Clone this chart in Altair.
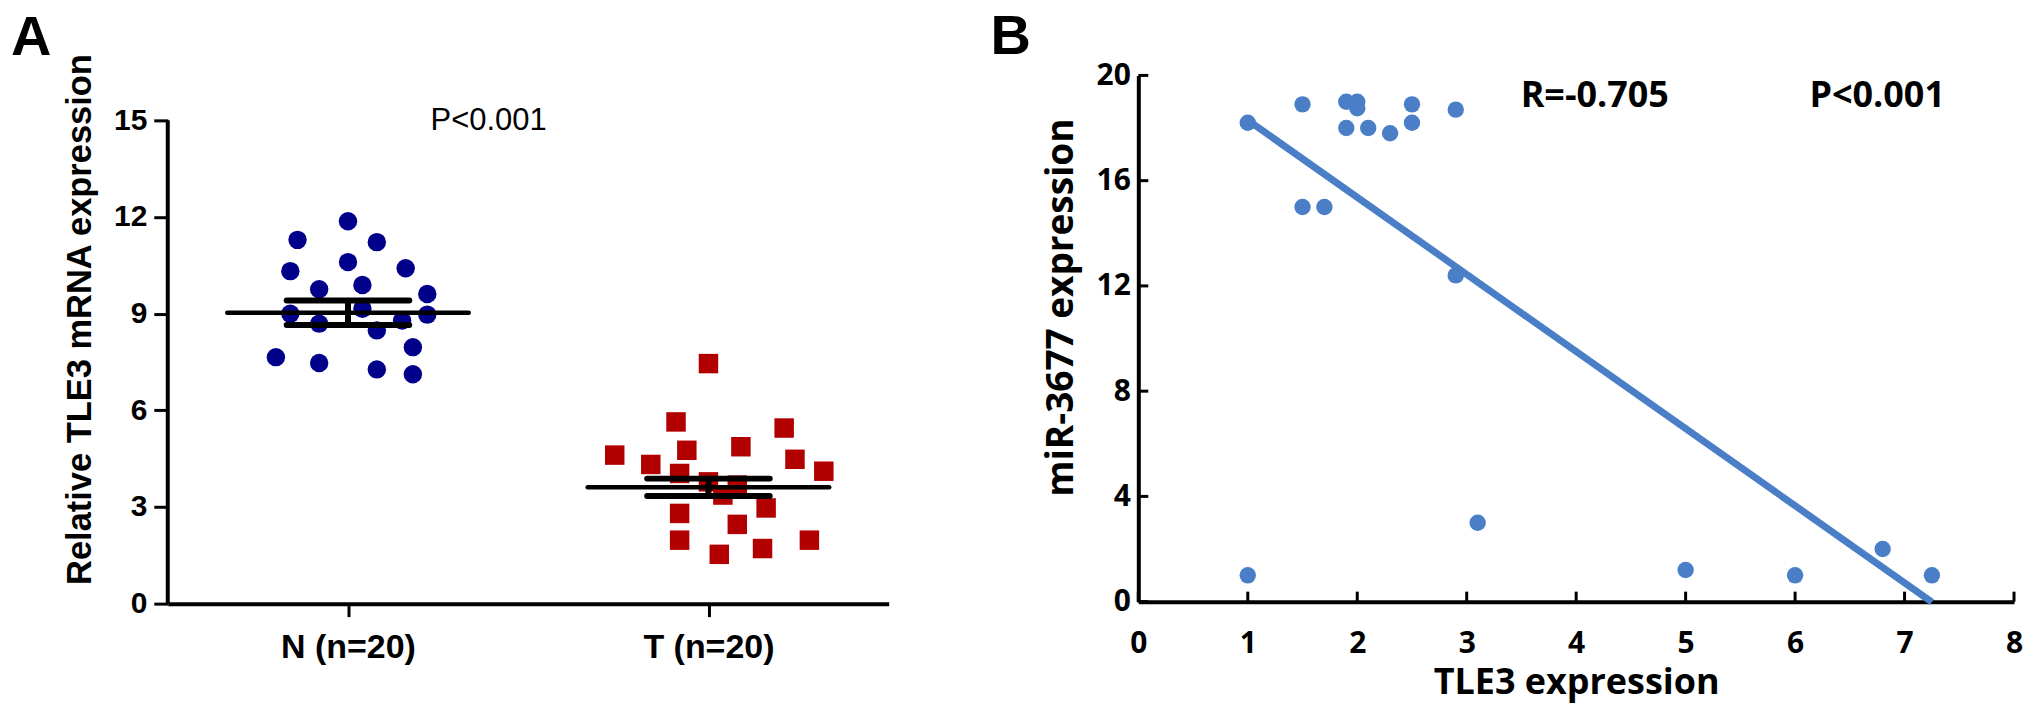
import altair as alt
import pandas as pd

# ---- panel A: scatter of TLE3 mRNA per group ----
groups = ["N (n=20)", "T (n=20)"]
group_pos = [1, 2]
n_values = [11.29, 11.87, 11.22, 10.32, 10.60, 10.41, 9.76, 9.89, 9.61, 9.00,
            8.97, 8.69, 8.48, 8.79, 7.96, 7.65, 7.47, 7.27, 7.12, 9.15]
n_offset = [-0.14, 0.0, 0.08, -0.16, 0.0, 0.16, -0.08, 0.04, 0.22, -0.16,
            0.22, -0.08, 0.08, 0.15, 0.18, -0.20, -0.08, 0.08, 0.18, 0.04]
t_values = [7.45, 5.64, 5.45, 4.61, 4.76, 4.87, 4.32, 4.48, 4.11, 4.04,
            3.78, 3.68, 3.37, 2.97, 2.80, 2.46, 1.97, 1.71, 1.97, 1.53]
t_offset = [0.0, -0.09, 0.21, -0.26, -0.06, 0.09, -0.16, 0.24, 0.32, -0.08,
            0.0, 0.08, 0.04, 0.16, -0.08, 0.08, -0.08, 0.15, 0.28, 0.03]
group_mean = [9.03, 3.61]
group_sem = [0.38, 0.27]
a_yticks = [0, 3, 6, 9, 12, 15]
p_text_a = "P<0.001"

# ---- panel B: correlation ----
tle3 = [1.0, 1.0, 1.5, 1.5, 1.7, 1.9, 1.9, 2.0, 2.0, 2.1,
        2.3, 2.5, 2.5, 2.9, 2.9, 3.1, 5.0, 6.0, 6.8, 7.25]
mir3677 = [18.2, 1.0, 18.9, 15.0, 15.0, 19.0, 18.0, 19.0, 18.75, 18.0,
           17.8, 18.9, 18.2, 18.7, 12.4, 3.0, 1.2, 1.0, 2.0, 1.0]
b_xticks = [0, 1, 2, 3, 4, 5, 6, 7, 8]
b_yticks = [0, 4, 8, 12, 16, 20]
r_text = "R=-0.705"
p_text_b = "P<0.001"

FONT_A = "Liberation Sans"
FONT_B = "Open Sans"
BLUE = "#4A7FC8"
W_A, H_A = 722, 529
A_TOP = 16.394  # panel A plot runs above 15 so both panels share a top edge
W_B, H_B = 877, 527

axis_common = dict(grid=False, domainColor="black", domainWidth=4,
                   tickColor="black", tickWidth=3, labelColor="black",
                   titleColor="black")

# panel A
pts = pd.DataFrame({
    "group": [groups[0]] * len(n_values) + [groups[1]] * len(t_values),
    "pos": [group_pos[0]] * len(n_values) + [group_pos[1]] * len(t_values),
    "offset": n_offset + t_offset,
    "value": n_values + t_values,
})
label_expr = f"datum.value == {group_pos[0]} ? '{groups[0]}' : '{groups[1]}'"

points_a = (
    alt.Chart(pts)
    .transform_calculate(xj="datum.pos + datum.offset")
    .mark_point(filled=True, opacity=1)
    .encode(
        x=alt.X("xj:Q", scale=alt.Scale(domain=[0.5, 2.5], nice=False, zero=False),
                axis=alt.Axis(values=group_pos, labelExpr=label_expr, title=None,
                              tickSize=13, labelPadding=14, labelFlush=False,
                              labelFont=FONT_A, labelFontSize=34,
                              labelFontWeight="bold", **axis_common)),
        y=alt.Y("value:Q", scale=alt.Scale(domain=[0, A_TOP], nice=False),
                axis=alt.Axis(values=a_yticks, domain=False,
                              title="Relative TLE3 mRNA expression",
                              titleFont=FONT_A, titleFontSize=34.5, titleFontWeight="bold",
                              titlePadding=16, titleY=244, tickSize=14, labelPadding=7,
                              labelFont=FONT_A, labelFontSize=30, labelFontWeight="bold",
                              **axis_common)),
        color=alt.Color("group:N", scale=alt.Scale(domain=groups, range=["#00008B", "#B20000"]),
                        legend=None),
        shape=alt.Shape("group:N", scale=alt.Scale(domain=groups, range=["circle", "square"]),
                        legend=None),
        size=alt.Size("group:N", scale=alt.Scale(domain=groups, range=[340, 380]), legend=None),
    )
)

# y axis line of panel A, from 0 to the top tick only
yline_a = (
    alt.Chart(pd.DataFrame({"value": [a_yticks[0]], "value_end": [a_yticks[-1]]}))
    .mark_rule(color="black", strokeWidth=4)
    .encode(x=alt.value(0), y="value:Q", y2="value_end:Q")
)

summ = pd.DataFrame({"pos": group_pos, "mean": group_mean, "sem": group_sem})
summ_base = alt.Chart(summ).transform_calculate(
    lo="datum.mean - datum.sem",
    hi="datum.mean + datum.sem",
    m1="datum.pos - 0.335",
    m2="datum.pos + 0.335",
    s1="datum.pos - 0.17",
    s2="datum.pos + 0.17",
)
mean_line = summ_base.mark_rule(color="black", strokeWidth=4.5, strokeCap="round").encode(
    x="m1:Q", x2="m2:Q", y="mean:Q")
sem_hi = summ_base.mark_rule(color="black", strokeWidth=6, strokeCap="round").encode(
    x="s1:Q", x2="s2:Q", y="hi:Q")
sem_lo = summ_base.mark_rule(color="black", strokeWidth=6, strokeCap="round").encode(
    x="s1:Q", x2="s2:Q", y="lo:Q")
sem_v = summ_base.mark_rule(color="black", strokeWidth=6).encode(
    x="pos:Q", y="lo:Q", y2="hi:Q")

p_a = (
    alt.Chart(pd.DataFrame({"label": [p_text_a]}))
    .mark_text(font=FONT_A, fontSize=31, align="center", baseline="alphabetic", color="black")
    .encode(x=alt.datum(1.39), y=alt.datum(14.69), text="label:N")
)
tag_a = (
    alt.Chart(pd.DataFrame({"label": ["A"]}))
    .mark_text(font=FONT_A, fontSize=56, fontWeight="bold", align="left",
               baseline="alphabetic", color="black")
    .encode(x=alt.value(-157), y=alt.value(-20), text="label:N")
)

panel_a = alt.layer(points_a, yline_a, mean_line, sem_hi, sem_lo, sem_v, p_a, tag_a).properties(
    width=W_A, height=H_A)

# panel B
bdf = pd.DataFrame({"tle3": tle3, "mir": mir3677})
points_b = (
    alt.Chart(bdf)
    .mark_circle(size=270, color=BLUE, opacity=1)
    .encode(
        x=alt.X("tle3:Q", scale=alt.Scale(domain=[0, 8], nice=False),
                axis=alt.Axis(values=b_xticks, format="d", ticks=False, tickSize=0,
                              labelPadding=27, labelFlush=False, labelFont=FONT_B,
                              labelFontSize=30, labelFontWeight="bold",
                              title="TLE3 expression", titleFont=FONT_B, titleFontSize=36,
                              titleFontWeight="bold", titlePadding=7, **axis_common)),
        y=alt.Y("mir:Q", scale=alt.Scale(domain=[0, 20], nice=False),
                axis=alt.Axis(values=b_yticks, format="d", ticks=False, tickSize=0,
                              labelPadding=8, labelFont=FONT_B, labelFontSize=30,
                              labelFontWeight="bold", title="miR-3677 expression",
                              titleFont=FONT_B, titleFontSize=37, titleFontWeight="bold",
                              titlePadding=16, titleY=232, **axis_common)),
    )
)
fit_b = (
    alt.Chart(bdf)
    .transform_regression("tle3", "mir")
    .mark_line(color=BLUE, strokeWidth=7)
    .encode(x="tle3:Q", y="mir:Q")
)
yticks_b = (
    alt.Chart(pd.DataFrame({"mir": b_yticks}))
    .mark_rule(color="black", strokeWidth=3)
    .encode(y="mir:Q", x=alt.value(0), x2=alt.value(10))
)
xticks_b = (
    alt.Chart(pd.DataFrame({"tle3": b_xticks}))
    .mark_rule(color="black", strokeWidth=3)
    .encode(x="tle3:Q", y=alt.value(H_B), y2=alt.value(H_B - 10))
)
r_b = (
    alt.Chart(pd.DataFrame({"label": [r_text]}))
    .mark_text(font=FONT_B, fontSize=36, fontWeight="bold", align="center",
               baseline="middle", color="black")
    .encode(x=alt.datum(4.17), y=alt.datum(19.2), text="label:N")
)
p_b = (
    alt.Chart(pd.DataFrame({"label": [p_text_b]}))
    .mark_text(font=FONT_B, fontSize=36, fontWeight="bold", align="center",
               baseline="middle", color="black")
    .encode(x=alt.datum(6.75), y=alt.datum(19.2), text="label:N")
)
tag_b = (
    alt.Chart(pd.DataFrame({"label": ["B"]}))
    .mark_text(font=FONT_A, fontSize=56, fontWeight="bold", align="left",
               baseline="alphabetic", color="black")
    .encode(x=alt.value(-148), y=alt.value(-21), text="label:N")
)

panel_b = alt.layer(points_b, fit_b, yticks_b, xticks_b, r_b, p_b, tag_b).properties(
    width=W_B, height=H_B)

chart = (
    alt.hconcat(panel_a, panel_b, spacing=102)
    .properties(padding={"left": 3, "top": 1, "right": 0, "bottom": 8})
    .configure_view(stroke=None)
)
chart.save("out.html", embed_options={"renderer": "svg", "actions": False})
